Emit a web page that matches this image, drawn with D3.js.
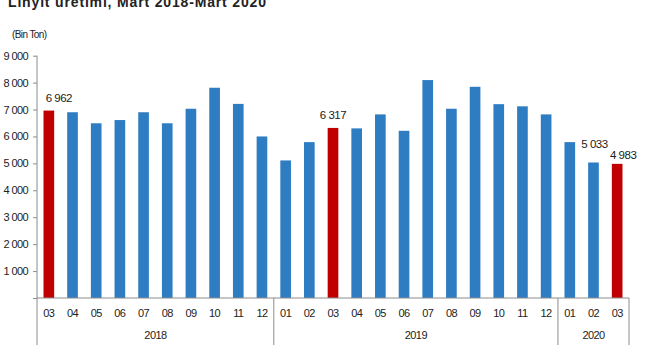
<!DOCTYPE html>
<html>
<head>
<meta charset="utf-8">
<script src="https://cdn.jsdelivr.net/npm/d3@7"></script>
<style>
  body { margin: 0; background: #fff; }
  svg text { font-family: "Liberation Sans", Arial, sans-serif; fill: #222; }
</style>
</head>
<body>
<svg id="chart" width="650" height="360"></svg>
<script>
// month codes, one per bar
const months = ["03","04","05","06","07","08","09","10","11","12",
                "01","02","03","04","05","06","07","08","09","10","11","12",
                "01","02","03"];
const years = ["2018","2018","2018","2018","2018","2018","2018","2018","2018","2018",
               "2019","2019","2019","2019","2019","2019","2019","2019","2019","2019","2019","2019",
               "2020","2020","2020"];
// production, thousand tonnes
const values = [6962, 6900, 6490, 6610, 6900, 6490, 7030, 7810, 7210, 6000,
                5110, 5790, 6317, 6300, 6820, 6210, 8095, 7030, 7845, 7200, 7120, 6820,
                5790, 5033, 4983];
const highlighted = [0, 12, 24];
const labelled = [0, 12, 23, 24];
const yTicks = [0, 1000, 2000, 3000, 4000, 5000, 6000, 7000, 8000, 9000];

const blue = "#2e7dc3", red = "#c00000", axisGrey = "#8c8c8c";
const fmt = v => d3.format(",")(v).replace(/,/g, " ");

// label nudges [dx, dy above bar top] so they don't collide
const labelNudge = {0: [10, 9], 12: [0, 9], 23: [1, 15], 24: [6, 5]};

const svg = d3.select("#chart");
const plotLeft = 37, plotRight = 629, plotTop = 55.7, base = 298;

const ids = d3.range(values.length);
const x = d3.scaleBand().domain(ids).range([plotLeft, plotRight]).paddingInner(0.55).paddingOuter(0.275);
const y = d3.scaleLinear().domain([0, 9000]).range([base, plotTop]);

// title (clipped at top as in source)
svg.append("text")
  .attr("x", 8).attr("y", 7)
  .attr("font-size", 14).attr("font-weight", "bold")
  .attr("textLength", 258)
  .text("Linyit  üretimi,  Mart 2018-Mart 2020");

svg.append("text")
  .attr("x", 12).attr("y", 38)
  .attr("font-size", 10)
  .attr("letter-spacing", -0.6)
  .text("(Bin Ton)");

// y axis
const yAxis = d3.axisLeft(y).tickValues(yTicks)
  .tickFormat(d => d === 0 ? "" : fmt(d))
  .tickSize(4).tickPadding(5);
const gy = svg.append("g").attr("transform", `translate(${plotLeft},0)`).call(yAxis);
gy.select(".domain").remove();
gy.selectAll(".tick line").attr("stroke", axisGrey);
gy.selectAll(".tick text").attr("font-size", 11).attr("letter-spacing", -0.6)
  .style("font-family", "'Liberation Sans', Arial, sans-serif").attr("fill", "#222");
svg.append("line").attr("x1", plotLeft).attr("x2", plotLeft).attr("y1", plotTop).attr("y2", 345)
  .attr("stroke", axisGrey);

// bars
svg.append("g").selectAll("rect").data(ids).join("rect")
  .attr("x", i => x(i))
  .attr("width", x.bandwidth())
  .attr("y", i => y(values[i]))
  .attr("height", i => y(0) - y(values[i]))
  .attr("fill", i => highlighted.includes(i) ? red : blue);

// baseline
svg.append("line").attr("x1", plotLeft).attr("x2", plotRight).attr("y1", base).attr("y2", base)
  .attr("stroke", axisGrey);

// value labels
svg.append("g").selectAll("text").data(labelled).join("text")
  .attr("x", i => x(i) + x.bandwidth() / 2 + labelNudge[i][0])
  .attr("y", i => y(values[i]) - labelNudge[i][1])
  .attr("text-anchor", "middle")
  .attr("font-size", 11.5).attr("letter-spacing", -0.5)
  .text(i => fmt(values[i]));

// month labels
svg.append("g").selectAll("text").data(ids).join("text")
  .attr("x", i => x(i) + x.bandwidth() / 2)
  .attr("y", 317)
  .attr("text-anchor", "middle")
  .attr("font-size", 11).attr("letter-spacing", -0.6)
  .text(i => months[i]);

// year groups
const step = x.step();
const groups = d3.groups(ids, i => years[i]);
groups.forEach(([yr, idx]) => {
  const x0 = plotLeft + idx[0] * step;
  const x1 = plotLeft + (idx[idx.length - 1] + 1) * step;
  svg.append("line").attr("x1", x1).attr("x2", x1).attr("y1", base).attr("y2", 345)
    .attr("stroke", axisGrey);
  svg.append("text")
    .attr("x", (x0 + x1) / 2).attr("y", 339)
    .attr("text-anchor", "middle")
    .attr("font-size", 11).attr("letter-spacing", -0.6)
    .text(yr);
});
</script>
</body>
</html>
